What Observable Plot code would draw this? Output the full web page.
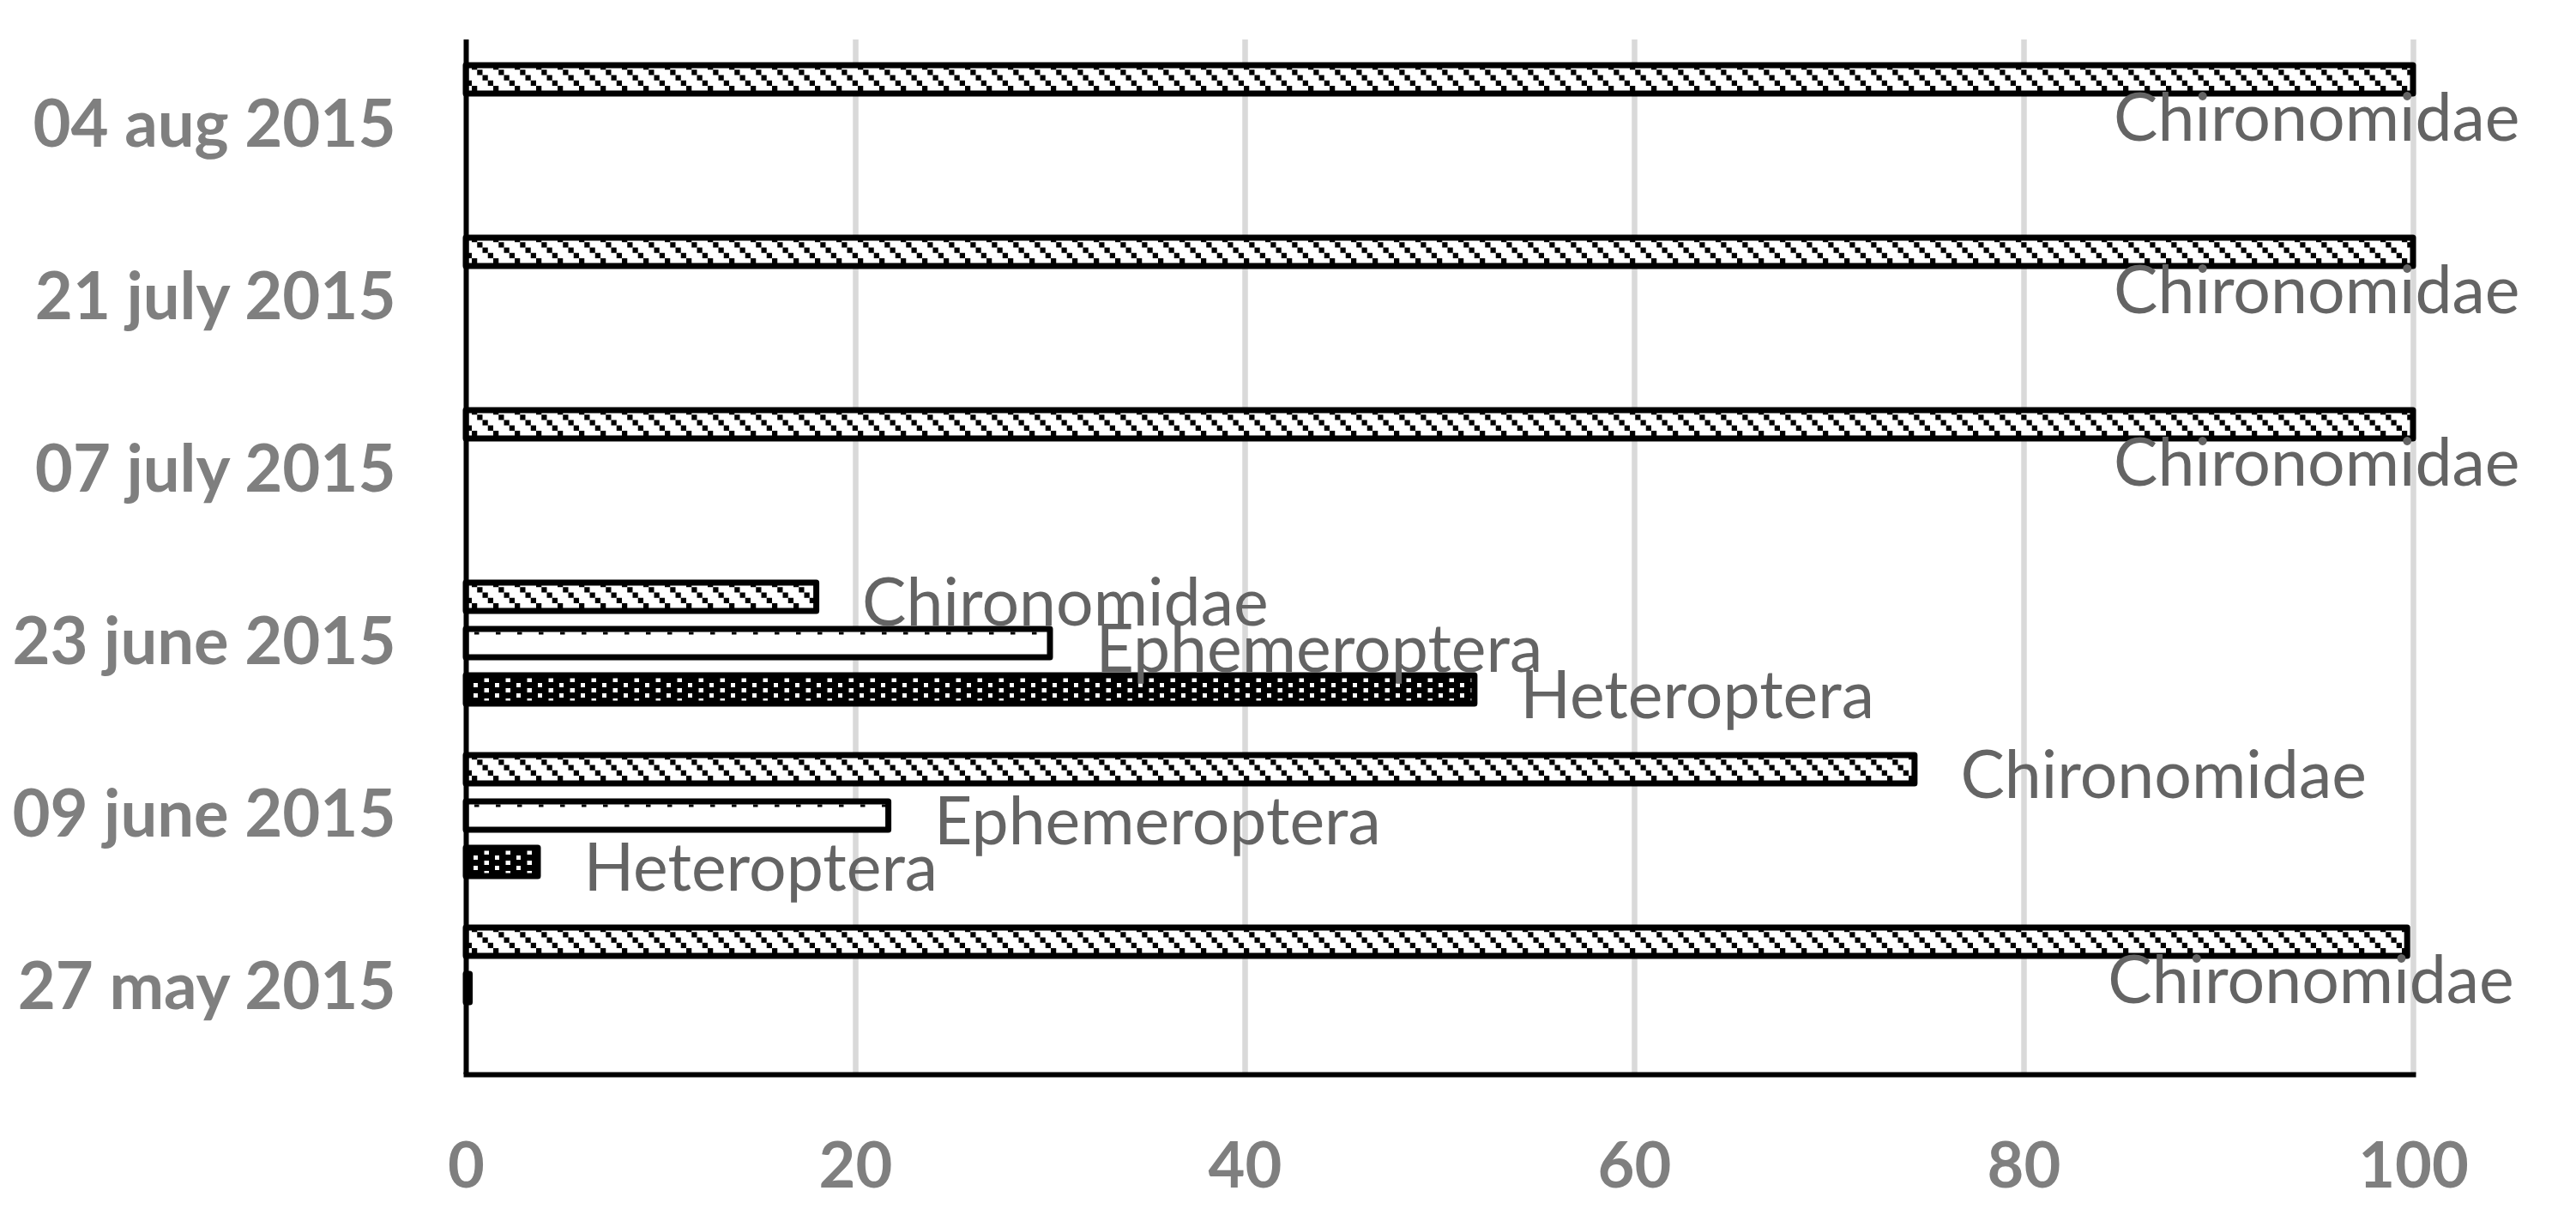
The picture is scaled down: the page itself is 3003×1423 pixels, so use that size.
<!DOCTYPE html>
<html>
<head>
<meta charset="utf-8">
<script src="https://cdn.jsdelivr.net/npm/d3@7"></script>
<script src="https://cdn.jsdelivr.net/npm/@observablehq/plot@0.6"></script>
<style>
  html, body { margin: 0; padding: 0; background: #fff; }
  #chart svg { display: block; }
</style>
</head>
<body>
<div id="chart"></div>
<script>
// ---- data ----
const dates = ["04 aug 2015", "21 july 2015", "07 july 2015", "23 june 2015", "09 june 2015", "27 may 2015"];
const taxa = ["Chironomidae", "Ephemeroptera", "Heteroptera"];
const chironomidae  = [100, 100, 100, 18.0, 74.4, 99.7];
const ephemeroptera = [0,   0,   0,   30.0, 21.7, 0.2];
const heteroptera   = [0,   0,   0,   51.8, 3.7,  0];
const xTicks = [0, 20, 40, 60, 80, 100];

const series = {Chironomidae: chironomidae, Ephemeroptera: ephemeroptera, Heteroptera: heteroptera};
const rows = [];
dates.forEach((d, i) => taxa.forEach(t => rows.push({date: d, taxon: t, value: series[t][i]})));
const bars = rows.filter(r => r.value > 0);
const labelsRight = rows.filter(r => r.value >= 1 && r.value < 95);
const labelsBelow = rows.filter(r => r.value >= 95);
const patternId = {Chironomidae: "pat-chir", Ephemeroptera: "pat-eph", Heteroptera: "pat-het"};

const labelStyle = {fontSize: 77, fill: "#646464", fontFamily: "Lato, sans-serif"};

const plot = Plot.plot({
  width: 3003,
  height: 1423,
  marginLeft: 543,
  marginRight: 190,
  marginTop: 46,
  marginBottom: 171,
  style: {fontFamily: "Lato, sans-serif", background: "#fff", overflow: "visible"},
  x: {domain: [0, 100]},
  y: {domain: taxa, axis: null, paddingInner: 0.389, paddingOuter: 0.556, round: false},
  fy: {domain: dates, padding: 0, round: false},
  marks: [
    Plot.ruleX(xTicks.filter(t => t > 0), {stroke: "#d9d9d9", strokeWidth: 6.5}),
    ...taxa.map(t => Plot.barX(bars.filter(r => r.taxon === t), {
      fy: "date", y: "taxon", x1: 0, x2: "value",
      fill: `url(#${patternId[t]})`, stroke: "#000", strokeWidth: 7, strokeLinejoin: "round"
    })),
    Plot.ruleX([0], {stroke: "#000", strokeWidth: 6}),
    Plot.frame({anchor: "bottom", facetAnchor: "bottom", stroke: "#000", strokeWidth: 6}),
    Plot.text(labelsRight, {fy: "date", y: "taxon", x: "value", text: "taxon",
      textAnchor: "start", lineAnchor: "middle", dx: 53, dy: 8, ...labelStyle}),
    Plot.text(labelsBelow, {fy: "date", y: "taxon", x: "value", text: "taxon",
      textAnchor: "end", lineAnchor: "middle", dx: 124, dy: 46, ...labelStyle}),
    Plot.axisX({ticks: xTicks, anchor: "bottom", tickSize: 0, tickPadding: 79, label: null,
      fontSize: 74, fontWeight: "bold", fill: "#7f7f7f"}),
    Plot.axisFy({anchor: "left", tickSize: 0, tickPadding: 82, label: null,
      fontSize: 76, fontWeight: "bold", fill: "#7f7f7f"})
  ]
});

// ---- fill patterns (Excel-like hatches) ----
const svg = d3.select(plot);
const defs = svg.insert("defs", ":first-child");

// Chironomidae: staircase downward diagonal
const pc = defs.append("pattern").attr("id", "pat-chir")
  .attr("patternUnits", "userSpaceOnUse").attr("width", 25).attr("height", 25);
pc.append("rect").attr("width", 25).attr("height", 25).attr("fill", "#fff");
for (let k = 0; k < 4; k++) {
  pc.append("rect").attr("x", k * 6.25).attr("y", k * 6.25)
    .attr("width", 6.25).attr("height", 6.25).attr("fill", "#000");
}

// Heteroptera: black with white dot lattice
const ph = defs.append("pattern").attr("id", "pat-het")
  .attr("patternUnits", "userSpaceOnUse").attr("width", 25).attr("height", 12);
ph.append("rect").attr("width", 25).attr("height", 12).attr("fill", "#000");
ph.append("rect").attr("x", 2).attr("y", 1).attr("width", 5).attr("height", 5).attr("fill", "#fff");
ph.append("rect").attr("x", 14.5).attr("y", 7).attr("width", 5.5).attr("height", 5).attr("fill", "#fff");

// Ephemeroptera: white with small dashes under the top edge
let ephTop = 0;
try { ephTop = plot.scale("y").apply("Ephemeroptera"); } catch (e) {}
const pe = defs.append("pattern").attr("id", "pat-eph")
  .attr("patternUnits", "userSpaceOnUse").attr("width", 25).attr("height", 400)
  .attr("y", ephTop);
pe.append("rect").attr("width", 25).attr("height", 400).attr("fill", "#fff");
pe.append("rect").attr("x", 3).attr("y", 3.5).attr("width", 5.5).attr("height", 3).attr("fill", "#000");

document.getElementById("chart").appendChild(plot);
</script>
</body>
</html>
